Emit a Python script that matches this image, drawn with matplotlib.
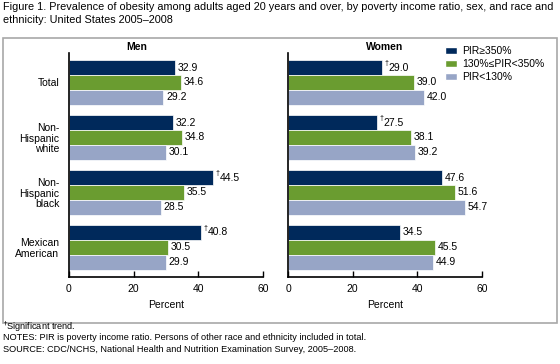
import numpy as np
import matplotlib.pyplot as plt
from matplotlib.patches import Patch, Rectangle

plt.rcParams['font.family'] = ['Liberation Sans', 'DejaVu Sans']

# ==========================================
# DADOS
# ==========================================
grupos = ["Total", "Non-\nHispanic\nwhite", "Non-\nHispanic\nblack", "Mexican\nAmerican"]
series = ["PIR\u2265350%", "130%\u2264PIR<350%", "PIR<130%"]
cores = ["#00295B", "#6A9C30", "#97A5C6"]

homens = [
    [32.9, 32.2, 44.5, 40.8],   # PIR>=350%
    [34.6, 34.8, 35.5, 30.5],   # 130%<=PIR<350%
    [29.2, 30.1, 28.5, 29.9],   # PIR<130%
]
mulheres = [
    [29.0, 27.5, 47.6, 34.5],
    [39.0, 38.1, 51.6, 45.5],
    [42.0, 39.2, 54.7, 44.9],
]
# tendencia significativa (so na serie PIR>=350%)
sig_homens = [False, False, True, True]
sig_mulheres = [True, True, False, False]

xticks = [0, 20, 40, 60]

W, H = 560, 364
fig = plt.figure(figsize=(W / 100, H / 100), dpi=100)


def px(x0, y0, w, h):
    return [x0 / W, 1 - (y0 + h) / H, w / W, h / H]


def painel(ax, dados, sig, rotulos):
    pos = np.arange(len(grupos))
    alt = 0.27
    for k, vals in enumerate(dados):
        y = pos - alt + k * alt
        ax.barh(y, vals, height=alt, color=cores[k], edgecolor="white", linewidth=0.5)
        for j, v in enumerate(vals):
            off = 2
            if k == 0 and sig[j]:
                ax.annotate("\u2020", (v, y[j]), xytext=(2, 3), textcoords="offset points",
                            ha="left", va="center", fontsize=5)
                off = 4.8
            ax.annotate(f"{v:.1f}", (v, y[j]), xytext=(off, 0), textcoords="offset points",
                        ha="left", va="center", fontsize=7.5)
    ax.set_xlim(0, 60)
    ax.set_ylim(3.54, -0.535)
    ax.set_xticks(xticks)
    ax.set_xticklabels([str(t) for t in xticks], fontsize=7.5)
    ax.tick_params(axis="x", direction="in", length=4, width=1, pad=5)
    ax.set_yticks(pos)
    if rotulos:
        ax.set_yticklabels(grupos, fontsize=7.5, linespacing=1.05)
    else:
        ax.set_yticklabels([])
    ax.tick_params(axis="y", length=0, pad=7)
    ax.spines["top"].set_visible(False)
    ax.spines["right"].set_visible(False)
    ax.spines["left"].set_linewidth(1.2)
    ax.spines["bottom"].set_linewidth(1.2)
    ax.set_xlabel("Percent", fontsize=7.5, labelpad=4)


ax1 = fig.add_axes(px(69, 53, 194, 224))
painel(ax1, homens, sig_homens, True)
ax2 = fig.add_axes(px(288, 53, 194, 224))
painel(ax2, mulheres, sig_mulheres, False)

fig.text(137 / W, 1 - 47 / H, "Men", fontsize=7.5, fontweight="bold", ha="center", va="center")
fig.text(385 / W, 1 - 47 / H, "Women", fontsize=7.5, fontweight="bold", ha="center", va="center")

# moldura
fig.add_artist(Rectangle((3 / W, 1 - 323 / H), 554 / W, 285 / H, transform=fig.transFigure,
                         fill=False, edgecolor="#a8a8a8", linewidth=1.2))

handles = [Patch(facecolor=c, edgecolor="white") for c in cores]
fig.legend(handles, series, loc="upper left", bbox_to_anchor=(445 / W, 1 - 46 / H),
           frameon=False, fontsize=7.5, handlelength=1.15, handleheight=0.6,
           handletextpad=0.5, labelspacing=0.3, borderaxespad=0, borderpad=0)

fig.text(3 / W, 1 - 7 / H,
         "Figure 1. Prevalence of obesity among adults aged 20 years and over, by poverty income ratio, sex, and race and",
         fontsize=7.8, ha="left", va="center")
fig.text(3 / W, 1 - 20 / H, "ethnicity: United States 2005\u20132008", fontsize=7.8, ha="left", va="center")

fig.text(3 / W, 1 - 327 / H, "$^{\u2020}$Significant trend.", fontsize=6.6, ha="left", va="center")
fig.text(3 / W, 1 - 338 / H,
         "NOTES: PIR is poverty income ratio. Persons of other race and ethnicity included in total.",
         fontsize=6.6, ha="left", va="center")
fig.text(3 / W, 1 - 349 / H,
         "SOURCE: CDC/NCHS, National Health and Nutrition Examination Survey, 2005\u20132008.",
         fontsize=6.6, ha="left", va="center")

fig.savefig("out.png", dpi=100)
